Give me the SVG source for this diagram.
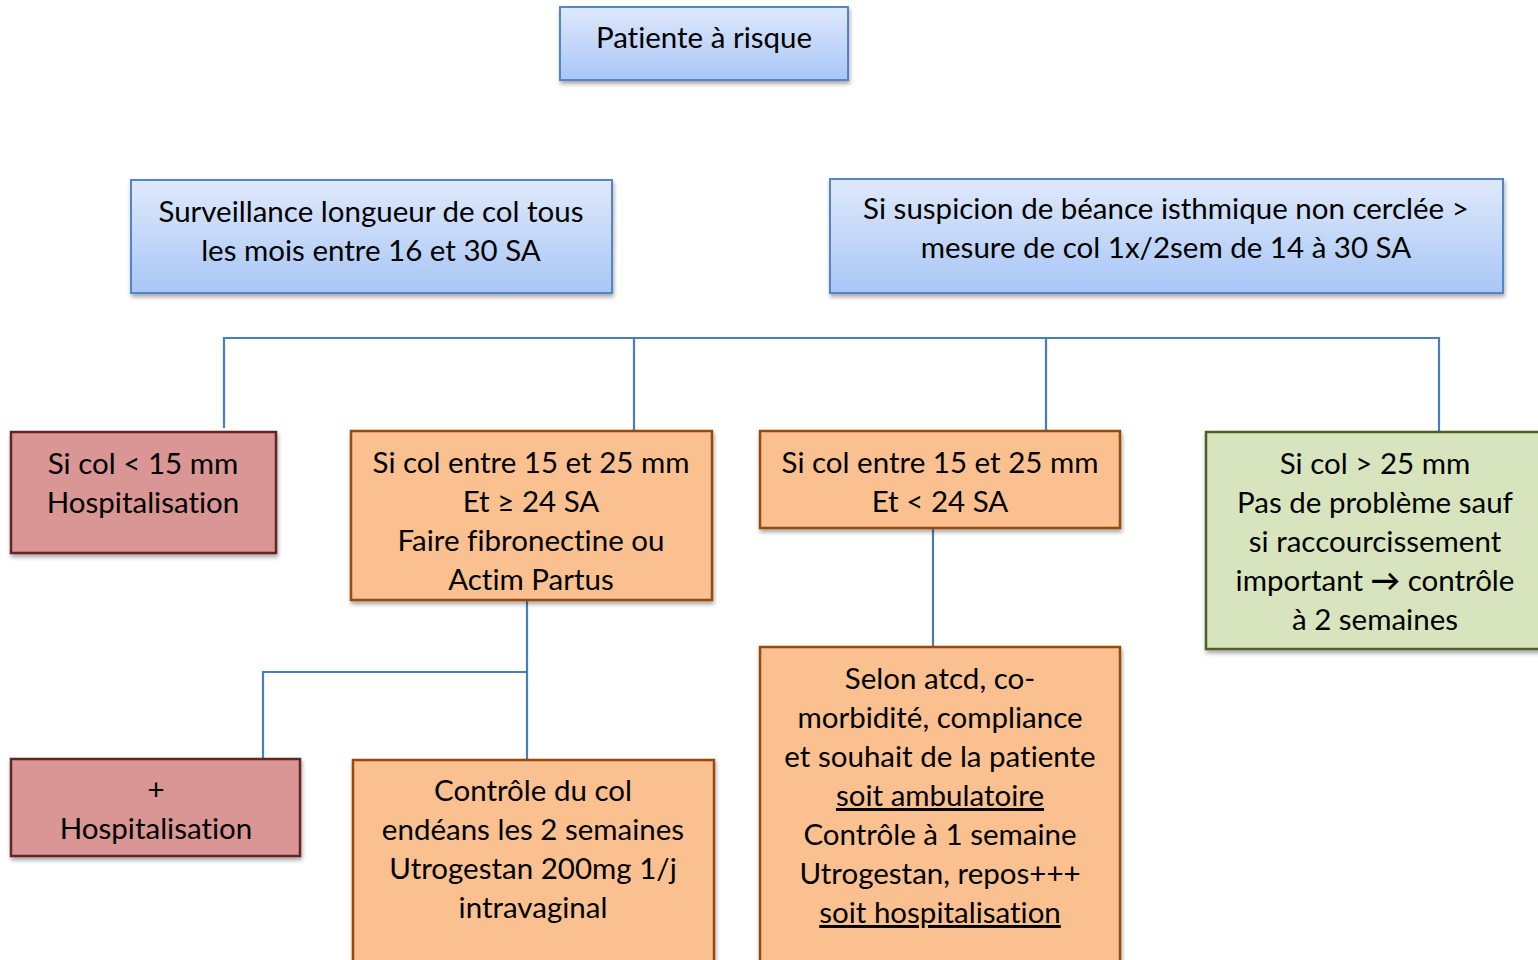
<svg xmlns="http://www.w3.org/2000/svg" width="1538" height="960" viewBox="0 0 1538 960">
<defs>
<linearGradient id="gBlue" x1="0" y1="0" x2="0" y2="1">
<stop offset="0" stop-color="#dfe9fb"/>
<stop offset="1" stop-color="#a8c6f6"/>
</linearGradient>
<filter id="sh" x="-10%" y="-10%" width="120%" height="130%">
<feGaussianBlur in="SourceAlpha" stdDeviation="2"/>
<feOffset dx="1" dy="3" result="b"/>
<feComponentTransfer><feFuncA type="linear" slope="0.35"/></feComponentTransfer>
<feMerge><feMergeNode/><feMergeNode in="SourceGraphic"/></feMerge>
</filter>
</defs>
<style>
text{font-family:Lato,"Open Sans","Liberation Sans",sans-serif;font-size:29.5px;fill:#000;text-anchor:middle;font-variant-ligatures:none;}
.blue{fill:url(#gBlue);stroke:#5585c8;stroke-width:2;filter:url(#sh);}
.red{fill:#d99694;stroke:#632523;stroke-width:2.5;filter:url(#sh);}
.org{fill:#fac090;stroke:#984807;stroke-width:2.5;filter:url(#sh);}
.grn{fill:#d7e4bd;stroke:#4f6228;stroke-width:2.5;filter:url(#sh);}
.ln{stroke:#4a7ebb;stroke-width:2.2;fill:none;}
.u{text-decoration:underline;}
.arr{font-weight:bold;}
</style>
<g id="connectors">
<polyline class="ln" points="224,428 224,338 1439,338 1439,431"/>
<line class="ln" x1="634" y1="338" x2="634" y2="430"/>
<line class="ln" x1="1046" y1="338" x2="1046" y2="430"/>
<line class="ln" x1="527" y1="600" x2="527" y2="760"/>
<polyline class="ln" points="527,672 263,672 263,758"/>
<line class="ln" x1="933" y1="528" x2="933" y2="647"/>
</g>
<g id="n1"><rect class="blue" x="560" y="7" width="288" height="73"/>
<text x="704" y="48">Patiente à risque</text></g>
<g id="n2"><rect class="blue" x="131" y="180" width="481" height="113"/>
<text x="371" y="222">Surveillance longueur de col tous</text>
<text x="371" y="261">les mois entre 16 et 30 SA</text></g>
<g id="n3"><rect class="blue" x="830" y="179" width="673" height="114"/>
<text x="1166" y="219">Si suspicion de béance isthmique non cerclée &gt;</text>
<text x="1166" y="258">mesure de col 1x/2sem de 14 à 30 SA</text></g>
<g id="n4"><rect class="red" x="11" y="432" width="265" height="121"/>
<text x="143" y="474">Si col &lt; 15 mm</text>
<text x="143" y="513">Hospitalisation</text></g>
<g id="n5"><rect class="org" x="351" y="431" width="361" height="169"/>
<text x="531" y="473">Si col entre 15 et 25 mm</text>
<text x="531" y="512">Et ≥ 24 SA</text>
<text x="531" y="551">Faire fibronectine ou</text>
<text x="531" y="590">Actim Partus</text></g>
<g id="n6"><rect class="org" x="760" y="431" width="360" height="97"/>
<text x="940" y="473">Si col entre 15 et 25 mm</text>
<text x="940" y="512">Et &lt; 24 SA</text></g>
<g id="n7"><rect class="grn" x="1206" y="432" width="340" height="217"/>
<text x="1375" y="474">Si col &gt; 25 mm</text>
<text x="1375" y="513">Pas de problème sauf</text>
<text x="1375" y="552">si raccourcissement</text>
<text x="1375" y="591">important <tspan class="arr">→</tspan> contrôle</text>
<text x="1375" y="630">à 2 semaines</text></g>
<g id="n8"><rect class="red" x="11" y="759" width="289" height="97"/>
<text x="156" y="800">+</text>
<text x="156" y="839">Hospitalisation</text></g>
<g id="n9"><rect class="org" x="353" y="760" width="361" height="210"/>
<text x="533" y="801">Contrôle du col</text>
<text x="533" y="840">endéans les 2 semaines</text>
<text x="533" y="879">Utrogestan 200mg 1/j</text>
<text x="533" y="918">intravaginal</text></g>
<g id="n10"><rect class="org" x="760" y="647" width="360" height="323"/>
<text x="940" y="689">Selon atcd, co-</text>
<text x="940" y="728">morbidité, compliance</text>
<text x="940" y="767">et souhait de la patiente</text>
<text x="940" y="806" class="u">soit ambulatoire</text>
<text x="940" y="845">Contrôle à 1 semaine</text>
<text x="940" y="884">Utrogestan, repos+++</text>
<text x="940" y="923" class="u">soit hospitalisation</text></g>
</svg>
